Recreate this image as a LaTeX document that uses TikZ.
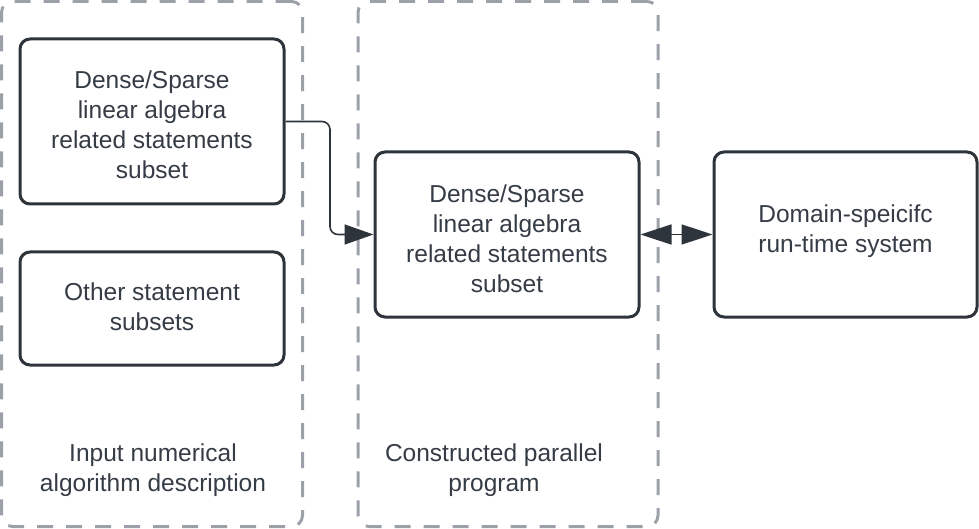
\documentclass[tikz,border=0pt]{standalone}
\usepackage{fontspec}
\setmainfont{Liberation Sans}
\usetikzlibrary{arrows.meta,calc}
\definecolor{edge}{HTML}{2E343B}
\definecolor{txt}{HTML}{353C46}
\definecolor{dash}{HTML}{9CA1A9}
\begin{document}
\begin{tikzpicture}[x=1pt,y=-1pt,
  every node/.style={font=\fontsize{24.5}{30}\selectfont, text=txt, align=center, inner sep=0pt},
  container/.style={draw=dash, line width=3pt, dash pattern=on 16pt off 13pt, rounded corners=11pt},
  box/.style={draw=edge, line width=3pt, rounded corners=10pt, fill=white},
  conn/.style={draw=edge, line width=1.6pt, -{Triangle[length=29pt,width=20pt]}},
  biconn/.style={draw=edge, line width=1.6pt, {Triangle[length=31pt,width=20pt]}-{Triangle[length=31pt,width=20pt]}}
]
\useasboundingbox (0,0) rectangle (979,529);
\node[container, minimum width=301pt, minimum height=525pt] (lc) at (152,264) {};
\node[container, minimum width=300pt, minimum height=525pt] (mc) at (508,264) {};
\node[box, minimum width=264pt, minimum height=165pt] (tl) at (152,121.5) {};
\node at (152,125) {Dense/Sparse\\linear algebra\\related statements\\subset};
\node[box, minimum width=264pt, minimum height=113pt] (ot) at (152,308.5) {};
\node at (152,307) {Other statement\\subsets};
\node[box, minimum width=264pt, minimum height=165pt] (mid) at (507,234.5) {};
\node at (507,238.5) {Dense/Sparse\\linear algebra\\related statements\\subset};
\node[box, minimum width=263pt, minimum height=165pt] (rt) at (845.5,234.5) {};
\node at (845.5,231.5) {Domain-speicifc\\run-time system};
\node (ll) at (153,470) {Input numerical\\algorithm description};
\node (ml) at (494,470) {Constructed parallel\\program};
\coordinate (bend) at (330,0);
\draw[conn, rounded corners=8pt] (tl.east) -- (tl.east -| bend) -- (bend |- mid.west) -- (mid.west);
\draw[biconn] (mid.east) -- (rt.west);
\end{tikzpicture}
\end{document}
